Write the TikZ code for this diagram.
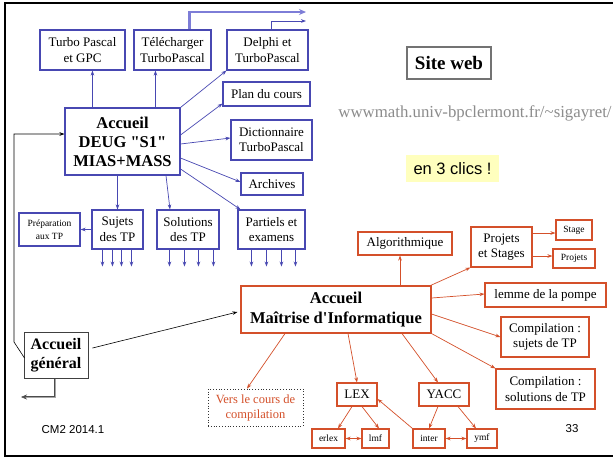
\documentclass[tikz,border=0pt]{standalone}
\usepackage{fontspec}
\setmainfont{Liberation Serif}[Ligatures=TeXOff]
\setsansfont{Liberation Sans}
\usetikzlibrary{arrows.meta,calc}
\definecolor{blueC}{RGB}{72,72,178}
\definecolor{blueT}{RGB}{125,125,215}
\definecolor{orangeC}{RGB}{212,80,42}
\definecolor{urlgray}{RGB}{140,140,140}
\definecolor{clicsbg}{RGB}{255,255,190}
\newcommand\fsz[2]{\fontsize{#1}{#2}\selectfont}
\tikzset{
  x=1pt, y=-1pt,
  bbox/.style={draw=blueC, line width=1.1pt, inner sep=0pt, align=center, font=\fsz{13}{15.5}},
  obox/.style={draw=orangeC, line width=1.1pt, inner sep=0pt, align=center, font=\fsz{13}{15.5}},
  sbox/.style={obox, font=\fsz{9.5}{11}},
  tip/.style={-{Stealth[length=5pt,width=3.6pt]}},
  barrow/.style={tip, draw=blueC, line width=0.7pt},
  oarrow/.style={tip, draw=orangeC, line width=0.7pt},
  oarrow2/.style={{Stealth[length=5pt,width=3.6pt]}-{Stealth[length=5pt,width=3.6pt]}, draw=orangeC, line width=0.7pt},
  karrow/.style={tip, draw=black, line width=0.6pt},
}
\begin{document}
\begin{tikzpicture}
\useasboundingbox (0,0) rectangle (613,459);
\fill[white] (0,0) rectangle (613,459);
% frame
\draw[line width=2.6pt] (613,3) -- (5,3) -- (5,456) -- (613,456);

% DEUG part
\node[bbox, minimum width=85pt, minimum height=40pt] (tp) at (82.5,50) {Turbo Pascal\\et GPC};
\node[bbox, minimum width=77pt, minimum height=40pt] (tel) at (172.5,50) {Télécharger\\TurboPascal};
\node[bbox, minimum width=81pt, minimum height=40pt] (del) at (267.5,50) {Delphi et\\TurboPascal};
\node[bbox, minimum width=87pt, minimum height=24pt] (plan) at (266.5,94) {Plan du cours};
\node[bbox, minimum width=81pt, minimum height=40pt] (dict) at (271.5,140) {Dictionnaire\\TurboPascal};
\node[bbox, minimum width=115pt, minimum height=67pt, font=\bfseries\fsz{16.5}{19}] (deug) at (122.5,141.5) {Accueil\\DEUG "S1"\\MIAS+MASS};
\node[bbox, minimum width=62pt, minimum height=22pt] (arch) at (272,184) {Archives};
\node[bbox, minimum width=51pt, minimum height=39pt] (suj) at (117.5,229.5) {Sujets\\des TP};
\node[bbox, minimum width=62pt, minimum height=39pt] (sol) at (188,229.5) {Solutions\\des TP};
\node[bbox, minimum width=67pt, minimum height=39pt] (part) at (271.5,229.5) {Partiels et\\examens};
\node[bbox, minimum width=61pt, minimum height=33pt, font=\fsz{9.5}{12.5}] (prep) at (49.5,229.5) {Préparation\\aux TP};

% general
\node[draw=black!75, line width=1pt, inner sep=0pt, align=center, minimum width=64pt, minimum height=46pt, font=\bfseries\fsz{16}{19}] (gen) at (56,355) {Accueil\\général};

% Maitrise part
\node[obox, minimum width=190pt, minimum height=47pt, font=\bfseries\fsz{16.5}{20}] (mait) at (336,309.5) {Accueil\\Maîtrise d'Informatique};
\node[draw=black!80, dotted, line width=0.8pt, inner sep=0pt, align=center, minimum width=95pt, minimum height=37pt, text=orangeC, font=\fsz{12.5}{15}] (vers) at (255.5,407.5) {Vers le cours de\\compilation};
\node[obox, minimum width=94pt, minimum height=23pt] (algo) at (405,243.5) {Algorithmique};
\node[obox, minimum width=61pt, minimum height=40pt] (proj) at (501.5,247) {Projets\\et Stages};
\node[sbox, minimum width=36pt, minimum height=20pt] (stage) at (574,230) {Stage};
\node[sbox, minimum width=42pt, minimum height=19pt] (projets) at (574,258.5) {Projets};
\node[obox, minimum width=121pt, minimum height=24pt] (lemme) at (545.5,295) {lemme de la pompe};
\node[obox, minimum width=88pt, minimum height=40pt] (csuj) at (545,337) {Compilation :\\sujets de TP};
\node[obox, minimum width=99pt, minimum height=40pt] (csol) at (545.5,389) {Compilation :\\solutions de TP};
\node[obox, minimum width=40pt, minimum height=23pt] (lex) at (357,394.5) {LEX};
\node[obox, minimum width=50pt, minimum height=23pt] (yacc) at (444,394.5) {YACC};
\node[sbox, minimum width=33pt, minimum height=19pt] (erlex) at (328.5,438.5) {erlex};
\node[sbox, minimum width=27pt, minimum height=19pt] (lmf) at (375.5,438.5) {lmf};
\node[sbox, minimum width=32pt, minimum height=19pt] (inter) at (429,438.5) {inter};
\node[sbox, minimum width=30pt, minimum height=19pt] (ymf) at (482,438.5) {ymf};

% right texts
\node[draw=black!55, line width=1.6pt, inner sep=0pt, minimum width=84pt, minimum height=32pt, font=\bfseries\fsz{19}{22}] (site) at (449,63) {Site web};
\node[text=urlgray, inner sep=0pt, font=\fsz{16.8}{19}] (url) at (475,113) {wwwmath.univ-bpclermont.fr/\textasciitilde sigayret/};
\node[fill=clicsbg, inner sep=0pt, minimum width=93pt, minimum height=27pt, font=\sffamily\fsz{16.5}{19}] (clics) at (452.5,168.5) {en 3 clics !};
\node[inner sep=0pt, font=\sffamily\fsz{11.5}{13}] (cm) at (73,430) {CM2 2014.1};
\node[inner sep=0pt, font=\sffamily\fsz{11.5}{13}] (num) at (572,429) {33};

% DEUG arrows
\coordinate (a1) at ($(deug.north west)+(28,0)$);
\draw[barrow] (a1) -- (a1 |- tp.south);
\coordinate (a2) at ($(deug.north west)+(91,0)$);
\draw[barrow] (a2) -- (a2 |- tel.south);
\draw[barrow] (deug.north east) -- (del.south west);
\draw[barrow] ($(deug.east)+(0,-6.5)$) -- ($(plan.south west)+(0,-3)$);
\draw[barrow] ($(deug.east)+(0,2.5)$) -- ($(dict.west)+(0,-2)$);
\draw[barrow] ($(deug.east)+(0,16.5)$) -- ($(arch.west)+(0,-2)$);
\draw[barrow] ($(deug.east)+(0,27.5)$) -- ($(part.north west)+(3,0)$);
\draw[barrow] ($(deug.south)+(-5,0)$) -- (suj.north);
\draw[barrow] ($(deug.south)+(43.5,0)$) -- ($(sol.north)+(-18,0)$);
\draw[barrow] (suj.west) -- (prep.east);
\foreach \d in {11,21,30,40} \draw[barrow] ($(suj.south west)+(\d,0)$) -- ++(0,17);
\foreach \d in {13,28,42,57} \draw[barrow] ($(sol.south west)+(\d,0)$) -- ++(0,17);
\foreach \d in {14,29,44,58} \draw[barrow] ($(part.south west)+(\d,0)$) -- ++(0,17);

% top outgoing arrows
\coordinate (webA) at (306,12);
\coordinate (webB) at (306,21);
\draw[-{Stealth[length=7pt,width=6pt]}, draw=blueT, line width=2.6pt] ($(tel.north west)+(56,0)$) |- (webA);
\draw[barrow] ($(del.north west)+(45,0)$) |- (webB);

% general loop
\coordinate (lp1) at (14,342);
\coordinate (lp2) at (14,134);
\coordinate (lp3) at ($(deug.west)+(0,-7.5)$);
\draw[karrow] ($(gen.west)+(1,3)$) -- (lp1) -- (lp2) -- (lp3);
\coordinate (gout) at (21,397);
\draw[-{Stealth[length=6pt,width=5pt]}, draw=black!70, double=black!35, double distance=0.7pt, line width=0.6pt] ($(gen.south)+(-1,0)$) |- (gout);
\draw[karrow] ($(gen.east)+(4,-7)$) -- ($(mait.west)+(-3,2.5)$);

% Maitrise arrows
\draw[oarrow] ($(algo.south)+(-5,31)$) -- ($(algo.south)+(-5,0)$);
\draw[oarrow] ($(mait.north east)+(-1,0)$) -- (proj.south west);
\draw[oarrow] ($(mait.east)+(0,-11.5)$) -- ($(lemme.west)+(0,-1)$);
\draw[oarrow] ($(mait.east)+(0,4.5)$) -- (csuj.west);
\draw[oarrow] (mait.south east) -- (csol.north west);
\draw[oarrow] ($(mait.south)+(12,0)$) -- (lex.north);
\draw[oarrow] ($(mait.south)+(66,0)$) -- ($(yacc.north)+(-6,0)$);
\draw[oarrow] ($(mait.south)+(-51,0)$) -- ($(vers.north)+(-8.5,0)$);
\draw[oarrow] ($(proj.east)+(0,-14)$) -- ($(stage.west)+(0,3)$);
\draw[oarrow] ($(proj.east)+(0,9)$) -- ($(projets.west)+(0,-2.5)$);
\draw[oarrow] ($(lex.south)+(-5,0)$) -- ($(erlex.north)+(9.5,0)$);
\draw[oarrow] ($(lex.south)+(5,0)$) -- ($(lmf.north)+(3.5,0)$);
\draw[oarrow] (inter.north west) -- ($(lex.east)+(0,4.5)$);
\draw[oarrow] ($(yacc.south)+(-6,0)$) -- (inter.north);
\draw[oarrow] ($(yacc.south)+(14,0)$) -- ($(ymf.north)+(-6,0)$);
\draw[oarrow2] (erlex.east) -- (lmf.west);
\draw[oarrow2] (inter.east) -- (ymf.west);
\end{tikzpicture}
\end{document}
